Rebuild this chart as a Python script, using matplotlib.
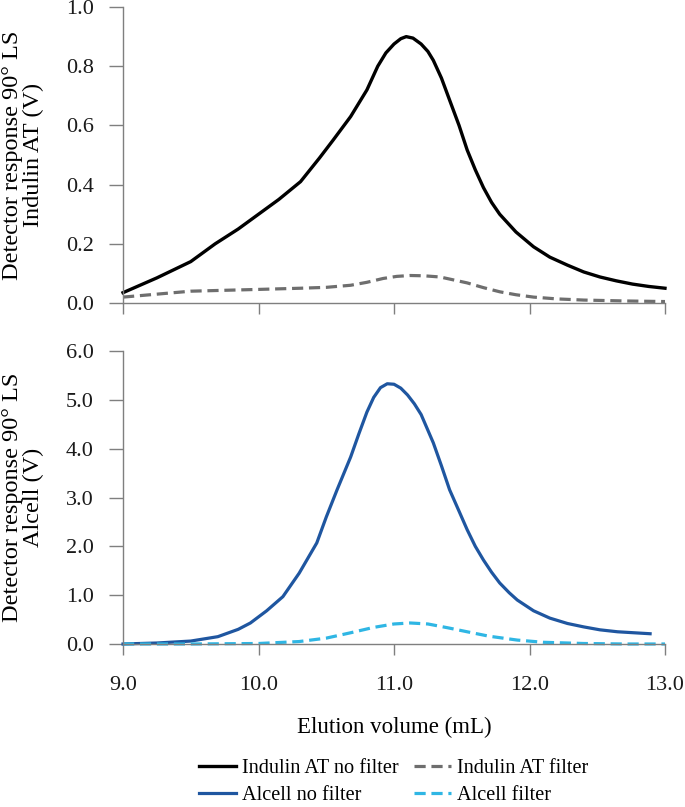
import matplotlib
matplotlib.use("Agg")
import matplotlib.pyplot as plt

plt.rcParams['font.family'] = ['Liberation Serif', 'DejaVu Serif']

# Indulin AT, no filter
ind_x = [9.0, 9.25, 9.5, 9.68, 9.85, 10.0, 10.15, 10.31, 10.45, 10.55, 10.68, 10.8, 10.88,
         10.94, 11.0, 11.05, 11.09, 11.14, 11.2, 11.25, 11.29, 11.35, 11.41, 11.48, 11.54,
         11.6, 11.66, 11.72, 11.78, 11.9, 12.03, 12.15, 12.28, 12.4, 12.52, 12.64, 12.76,
         12.88, 13.0]
ind_y = [0.035, 0.085, 0.14, 0.2, 0.25, 0.30, 0.35, 0.41, 0.49, 0.55, 0.63, 0.72, 0.80,
         0.845, 0.875, 0.893, 0.90, 0.895, 0.875, 0.85, 0.82, 0.76, 0.686, 0.60, 0.517,
         0.45, 0.39, 0.34, 0.30, 0.24, 0.19, 0.155, 0.128, 0.105, 0.088, 0.075, 0.064,
         0.056, 0.05]

# Indulin AT, filter
indf_x = [9.0, 9.25, 9.5, 9.75, 10.0, 10.31, 10.5, 10.68, 10.8, 10.92, 11.02, 11.12, 11.22,
          11.34, 11.44, 11.54, 11.66, 11.78, 11.9, 12.03, 12.2, 12.4, 12.7, 13.0]
indf_y = [0.02, 0.03, 0.04, 0.043, 0.046, 0.05, 0.053, 0.06, 0.07, 0.083, 0.09, 0.093, 0.092,
          0.088, 0.078, 0.068, 0.052, 0.038, 0.028, 0.02, 0.014, 0.01, 0.007, 0.005]

# Alcell, no filter
alc_x = [9.0, 9.25, 9.5, 9.7, 9.85, 9.94, 10.06, 10.18, 10.3, 10.43, 10.5, 10.58, 10.68,
         10.74, 10.8, 10.85, 10.9, 10.95, 11.0, 11.05, 11.1, 11.15, 11.2, 11.29, 11.35,
         11.41, 11.48, 11.54, 11.6, 11.66, 11.72, 11.78, 11.85, 11.91, 12.03, 12.15, 12.28,
         12.4, 12.52, 12.65, 12.77, 12.89]
alc_y = [0.0, 0.02, 0.06, 0.15, 0.3, 0.43, 0.68, 0.97, 1.45, 2.07, 2.6, 3.16, 3.83,
         4.3, 4.75, 5.05, 5.25, 5.33, 5.32, 5.24, 5.1, 4.92, 4.7, 4.12, 3.65,
         3.16, 2.72, 2.34, 2.0, 1.72, 1.47, 1.25, 1.05, 0.90, 0.68, 0.53, 0.42,
         0.35, 0.29, 0.25, 0.23, 0.21]

# Alcell, filter
alcf_x = [9.0, 9.5, 10.0, 10.3, 10.5, 10.68, 10.85, 11.0, 11.12, 11.25, 11.4, 11.54, 11.7,
          11.91, 12.1, 12.4, 12.7, 13.0]
alcf_y = [0.0, 0.0, 0.01, 0.05, 0.12, 0.23, 0.34, 0.41, 0.43, 0.41, 0.33, 0.25, 0.16,
          0.08, 0.035, 0.01, 0.0, 0.0]

x_ticks = [9.0, 10.0, 11.0, 12.0, 13.0]
top_ticks = [0.0, 0.2, 0.4, 0.6, 0.8, 1.0]
bot_ticks = [0.0, 1.0, 2.0, 3.0, 4.0, 5.0, 6.0]

tick_fs = 16
ylabel_fs = 17.5
xlabel_fs = 16.5
legend_fs = 14.6
spine_col = '#7f7f7f'
dash = (0, (3.5, 1.8))

fig = plt.figure(figsize=(6.85, 8.07), dpi=100)
ax1 = fig.add_axes([0.1796, 0.6245, 0.7912, 0.3668])
ax2 = fig.add_axes([0.1796, 0.2020, 0.7912, 0.3630])

l1, = ax1.plot(ind_x, ind_y, color='black', lw=2.4, label='Indulin AT no filter')
l2, = ax1.plot(indf_x, indf_y, color='#6e6e6e', lw=2.3, ls=dash, label='Indulin AT filter')
l3, = ax2.plot(alc_x, alc_y, color='#1f56a0', lw=2.3, label='Alcell no filter')
l4, = ax2.plot(alcf_x, alcf_y, color='#2fb6e4', lw=2.3, ls=dash, label='Alcell filter')

for ax, ticks, lim in ((ax1, top_ticks, 1.0), (ax2, bot_ticks, 6.0)):
    ax.set_xlim(9.0, 13.0)
    ax.set_ylim(0, lim)
    ax.set_xticks(x_ticks)
    ax.set_yticks(ticks)
    ax.set_yticklabels([f'{t:.1f}' for t in ticks])
    for s in ('top', 'right'):
        ax.spines[s].set_visible(False)
    for s in ('left', 'bottom'):
        ax.spines[s].set_color(spine_col)
        ax.spines[s].set_linewidth(1.0)
    ax.tick_params(axis='both', direction='out', color=spine_col, width=1.0,
                   labelsize=tick_fs, labelcolor='#1a1a1a')
    ax.tick_params(axis='y', length=10, pad=11)
    ax.tick_params(axis='x', length=8, pad=15)
    for ln in ax.lines:
        ln.set_clip_on(False)

ax1.set_xticklabels([])
ax2.set_xticklabels([f'{t:.1f}' for t in x_ticks])

ax1.set_ylabel('Detector response 90° LS\nIndulin AT (V)', fontsize=ylabel_fs, linespacing=1.0)
ax2.set_ylabel('Detector response 90° LS\nAlcell (V)', fontsize=ylabel_fs, linespacing=1.0)
ax1.yaxis.set_label_coords(-0.146, 0.5)
ax2.yaxis.set_label_coords(-0.146, 0.5)
ax2.set_xlabel('Elution volume (mL)', fontsize=xlabel_fs, labelpad=16)

fig.legend(handles=[l1, l3, l2, l4], loc='center', bbox_to_anchor=(0.575, 0.031),
           ncol=2, frameon=False, fontsize=legend_fs, handlelength=1.83, handletextpad=0.3,
           columnspacing=0.74, labelspacing=0.38)

fig.savefig('out.png', dpi=100)
